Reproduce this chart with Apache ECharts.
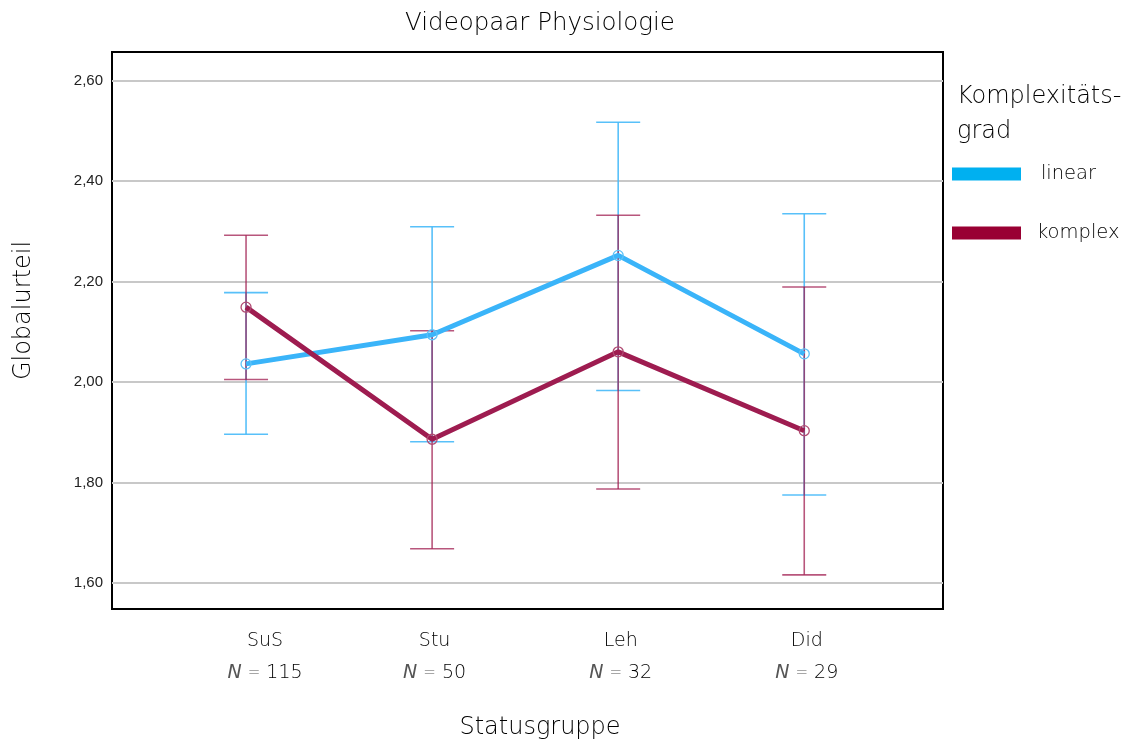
<!DOCTYPE html>
<html>
<head>
<meta charset="utf-8">
<script src="https://cdn.jsdelivr.net/npm/echarts@6/dist/echarts.min.js"></script>
<style>
html,body{margin:0;padding:0;background:#fff;}
#chart{width:1133px;height:740px;}
</style>
</head>
<body>
<div id="chart"></div>
<script>
const categories = ['SuS', 'Stu', 'Leh', 'Did'];
const nValues = [115, 50, 32, 29];
const yTicks = [1.6, 1.8, 2.0, 2.2, 2.4, 2.6];

const linearMean = [2.036, 2.094, 2.252, 2.056];
const linearLow  = [1.896, 1.881, 1.983, 1.775];
const linearHigh = [2.178, 2.309, 2.517, 2.335];

const komplexMean = [2.149, 1.886, 2.060, 1.903];
const komplexLow  = [2.005, 1.668, 1.787, 1.616];
const komplexHigh = [2.292, 2.102, 2.332, 2.189];

const FONT = '"DejaVu Sans", "Open Sans", sans-serif';
const W = 200;
const TXT = '#000';

function errRender(color) {
  return function (params, api) {
    const x = api.value(0);
    const lo = api.coord([x, api.value(1)]);
    const hi = api.coord([x, api.value(2)]);
    const w = 22;
    const st = { stroke: color, lineWidth: 1.6 };
    return {
      type: 'group',
      children: [
        { type: 'line', shape: { x1: lo[0], y1: lo[1], x2: hi[0], y2: hi[1] }, style: st },
        { type: 'line', shape: { x1: lo[0] - w, y1: lo[1], x2: lo[0] + w, y2: lo[1] }, style: st },
        { type: 'line', shape: { x1: hi[0] - w, y1: hi[1], x2: hi[0] + w, y2: hi[1] }, style: st }
      ]
    };
  };
}

const labelRich = {
  c0: { fontFamily: FONT, fontWeight: W, fontSize: 19, color: TXT, padding: [0, 0, 0, 38] },
  n0: { fontFamily: FONT, fontStyle: 'italic', fontSize: 19, color: '#555', padding: [0, 0, 0, 38] },
  c1: { fontFamily: FONT, fontWeight: W, fontSize: 19, color: TXT, padding: [0, 0, 0, 5] },
  n1: { fontFamily: FONT, fontStyle: 'italic', fontSize: 19, color: '#555', padding: [0, 0, 0, 5] },
  e: { fontFamily: FONT, fontWeight: W, fontSize: 15, color: '#555' },
  v: { fontFamily: FONT, fontWeight: W, fontSize: 19, color: TXT }
};

const chart = echarts.init(document.getElementById('chart'), null, { renderer: 'canvas' });
chart.setOption({
  animation: false,
  backgroundColor: '#fff',
  title: {
    text: 'Videopaar Physiologie',
    left: 540, top: 11, textAlign: 'center', padding: 0,
    textStyle: { fontFamily: FONT, fontSize: 24.5, fontWeight: W, color: TXT }
  },
  legend: {
    orient: 'vertical',
    left: 952, top: 164, padding: 0,
    itemWidth: 69, itemHeight: 13, itemGap: 39,
    icon: 'rect',
    data: [
      { name: 'linear', itemStyle: { color: '#00B0F0', borderWidth: 0 } },
      { name: 'komplex', itemStyle: { color: '#990033', borderWidth: 0 } }
    ],
    formatter: function (n) { return n === 'linear' ? '\u2009' + n : n; },
    textStyle: { fontFamily: FONT, fontWeight: W, fontSize: 19.5, color: TXT, padding: [0, 0, 0, 11] }
  },
  graphic: [
    { type: 'text', left: 957, top: 79, style: { text: 'Komplexitäts-\ngrad', fontFamily: FONT, fontWeight: W, fontSize: 24, fill: TXT, lineHeight: 35 } }
  ],
  grid: {
    left: 112, top: 52, right: 190, bottom: 131,
    outerBoundsMode: 'none', containLabel: false,
    show: true, borderColor: '#000', borderWidth: 2, backgroundColor: 'transparent'
  },
  xAxis: {
    type: 'value',
    min: -0.7204, max: 3.7457,
    name: 'Statusgruppe', nameLocation: 'middle', nameGap: 107,
    nameTextStyle: { fontFamily: FONT, fontWeight: W, fontSize: 24, color: TXT, padding: [0, 0, 0, 25] },
    axisLine: { show: false }, axisTick: { show: false }, splitLine: { show: false },
    axisLabel: {
      customValues: [0, 1, 2, 3],
      margin: 16,
      lineHeight: 32,
      formatter: function (v) {
        const k = v === 0 ? '0' : '1';
        return '{c' + k + '|' + categories[v] + '}\n{n' + k + '|N}{v| }{e|=}{v| ' + nValues[v] + '}';
      },
      fontFamily: FONT, fontSize: 19, color: TXT,
      rich: labelRich
    }
  },
  yAxis: {
    type: 'value',
    min: 1.548, max: 2.657,
    name: 'Globalurteil', nameLocation: 'middle', nameGap: 76, nameRotate: 90,
    nameTextStyle: { fontFamily: FONT, fontWeight: W, fontSize: 24, color: TXT, padding: [0, 0, 0, 40] },
    axisLine: { show: false },
    axisTick: { show: false, customValues: yTicks },
    axisLabel: {
      customValues: yTicks,
      margin: 9,
      formatter: function (v) { return v.toFixed(2).replace('.', ','); },
      fontFamily: '"Liberation Sans", Arial, sans-serif', fontSize: 15, color: '#222'
    },
    splitLine: { show: true, lineStyle: { color: '#c8c8c8', width: 2 } }
  },
  series: [
    {
      name: 'linear-err', type: 'custom', renderItem: errRender('rgba(70,185,248,0.9)'),
      encode: { x: 0, y: [1, 2] }, z: 2,
      data: categories.map((c, i) => [i, linearLow[i], linearHigh[i]])
    },
    {
      name: 'komplex-err', type: 'custom', renderItem: errRender('rgba(160,30,80,0.75)'),
      encode: { x: 0, y: [1, 2] }, z: 3,
      data: categories.map((c, i) => [i, komplexLow[i], komplexHigh[i]])
    },
    {
      name: 'linear', type: 'line', z: 4,
      data: categories.map((c, i) => [i, linearMean[i]]),
      lineStyle: { color: '#3AB4F9', width: 5 },
      symbol: 'circle', symbolSize: 10,
      itemStyle: { color: 'rgba(0,0,0,0)', borderColor: '#5cc2f8', borderWidth: 1.3 }
    },
    {
      name: 'komplex', type: 'line', z: 5,
      data: categories.map((c, i) => [i, komplexMean[i]]),
      lineStyle: { color: '#9E1C50', width: 5 },
      symbol: 'circle', symbolSize: 10,
      itemStyle: { color: 'rgba(0,0,0,0)', borderColor: '#b04a72', borderWidth: 1.3 }
    }
  ]
});
</script>
</body>
</html>
